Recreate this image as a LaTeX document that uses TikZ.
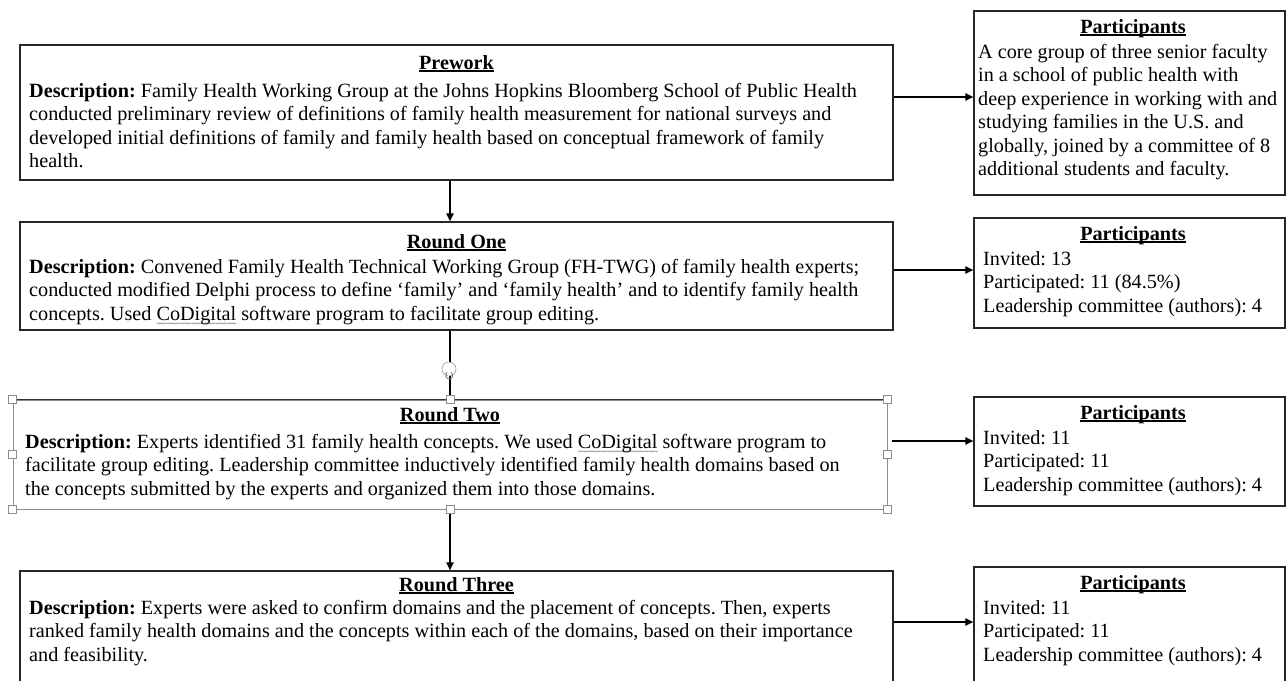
\documentclass[tikz,border=0pt]{standalone}
\usepackage{fontspec}
\setmainfont{Liberation Serif}
\usetikzlibrary{arrows.meta,decorations.pathmorphing}
\frenchspacing
\newcommand\gwave[1]{\setbox0\hbox{#1}\rlap{\raisebox{-4pt}{\tikz\draw[black!45, line width=0.5pt, decorate, decoration={snake, amplitude=0.6pt, segment length=2.4pt}] (0,0) -- (\wd0,0);}}\box0\relax}
\newcommand\myul[1]{\setbox0\hbox{#1}\rlap{\rule[-2.6pt]{\wd0}{1.2pt}}\box0\relax}
\newcommand\ttl[1]{\myul{\textbf{#1}}}
\newcommand\st{\rule{0pt}{15pt}}
\begin{document}
\begin{tikzpicture}[x=1pt,y=-1pt,
  box/.style={draw=black!85, line width=1.1pt, fill=white, inner sep=0, rectangle},
  selbox/.style={draw=black!45, line width=1pt, fill=white, inner sep=0, rectangle},
  handle/.style={draw=black!45, fill=white, line width=0.6pt, minimum size=8pt, inner sep=0, rectangle},
  txt/.style={anchor=north west, inner sep=0, align=left, font=\fontsize{20.2}{23.5}\selectfont\frenchspacing},
  title/.style={anchor=base, inner sep=0, font=\fontsize{20.2}{23.5}\selectfont},
  arr/.style={line width=1.8pt, -{Triangle[length=8pt,width=7pt]}}]
\useasboundingbox (0,0) rectangle (1287,680);
\clip (0,0) rectangle (1287,680);
% boxes
\node[box, minimum width=873pt, minimum height=135pt] (pre) at (456.5,112.5) {};
\node[box, minimum width=873pt, minimum height=108pt] (r1) at (456.5,276) {};
\node[selbox, minimum width=874pt, minimum height=109pt] (r2) at (450,454.5) {};
\node[box, minimum width=873pt, minimum height=129pt] (r3) at (456.5,635.5) {};
\node[box, minimum width=311pt, minimum height=184pt] (p1) at (1129.5,103) {};
\node[box, minimum width=311pt, minimum height=110pt] (p2) at (1129.5,273) {};
\node[box, minimum width=311pt, minimum height=109pt] (p3) at (1129.5,451.5) {};
\node[box, minimum width=311pt, minimum height=133pt] (p4) at (1129.5,633.5) {};
\draw[black!80, line width=1pt] (r2.north west) -- (r2.north east);
% texts (north = baseline - 15)
\node[title] (preT) at (456.5,69) {\ttl{Prework}};
\node[txt] (preB) at (29,82) {\st\textbf{Description:} Family Health Working Group at the Johns Hopkins Bloomberg School of Public Health\\
conducted preliminary review of definitions of family health measurement for national surveys and\\
developed initial definitions of family and family health based on conceptual framework of family\\
health.};
\node[title] (r1T) at (456.5,248) {\ttl{Round One}};
\node[txt] (r1B) at (29,258) {\st\textbf{Description:} Convened Family Health Technical Working Group (FH-TWG) of family health experts;\\
conducted modified Delphi process to define ‘family’ and ‘family health’ and to identify family health\\
concepts. Used \gwave{CoDigital} software program to facilitate group editing.};
\node[title] (r2T) at (450,421) {\ttl{Round Two}};
\node[txt] (r2B) at (25,433) {\st\textbf{Description:} Experts identified 31 family health concepts. We used \gwave{CoDigital} software program to\\
facilitate group editing. Leadership committee inductively identified family health domains based on\\
the concepts submitted by the experts and organized them into those domains.};
\node[title] (r3T) at (456.5,591) {\ttl{Round Three}};
\node[txt] (r3B) at (29,599) {\st\textbf{Description:} Experts were asked to confirm domains and the placement of concepts. Then, experts\\
ranked family health domains and the concepts within each of the domains, based on their importance\\
and feasibility.};
\node[title] (p1T) at (1133,33) {\ttl{Participants}};
\node[txt] (p1B) at (978,43) {\st A core group of three senior faculty\\
in a school of public health with\\
deep experience in working with and\\
studying families in the U.S. and\\
globally, joined by a committee of 8\\
additional students and faculty.};
\node[title] (p2T) at (1133,240) {\ttl{Participants}};
\node[txt] (p2B) at (983,250) {\st Invited: 13\\Participated: 11 (84.5\%)\\Leadership committee (authors): 4};
\node[title] (p3T) at (1133,419) {\ttl{Participants}};
\node[txt] (p3B) at (983,429) {\st Invited: 11\\Participated: 11\\Leadership committee (authors): 4};
\node[title] (p4T) at (1133,589) {\ttl{Participants}};
\node[txt] (p4B) at (983,599) {\st Invited: 11\\Participated: 11\\Leadership committee (authors): 4};
% horizontal arrows
\coordinate (y1) at (0,97);
\coordinate (y2) at (0,270);
\coordinate (y3) at (0,441);
\coordinate (y4) at (0,622);
\draw[arr] (pre.east |- y1) -- (p1.west |- y1);
\draw[arr] (r1.east |- y2) -- (p2.west |- y2);
\draw[arr] ([xshift=4pt]r2.east |- y3) -- (p3.west |- y3);
\draw[arr] (r3.east |- y4) -- (p4.west |- y4);
% vertical arrows
\draw[arr] (pre.south -| r2.north) -- (r1.north -| r2.north);
\draw[arr] (r1.south -| r2.north) -- ([yshift=-4pt]r2.north);
\draw[arr] ([yshift=4pt]r2.south) -- (r3.north -| r2.south);
% selection handles
\foreach \a in {north west,north,north east,west,east,south west,south,south east}
  \node[handle] at (r2.\a) {};
\node[circle, draw=black!40, fill=white, line width=0.6pt, minimum size=14pt, inner sep=0] (rot) at (449,369) {};
\draw[black!55, line width=0.8pt, -{Stealth[length=2.5pt]}] ([shift={(2pt,-3.5pt)}]rot.center) arc[start angle=60, end angle=-240, radius=3.5pt];
\end{tikzpicture}
\end{document}
